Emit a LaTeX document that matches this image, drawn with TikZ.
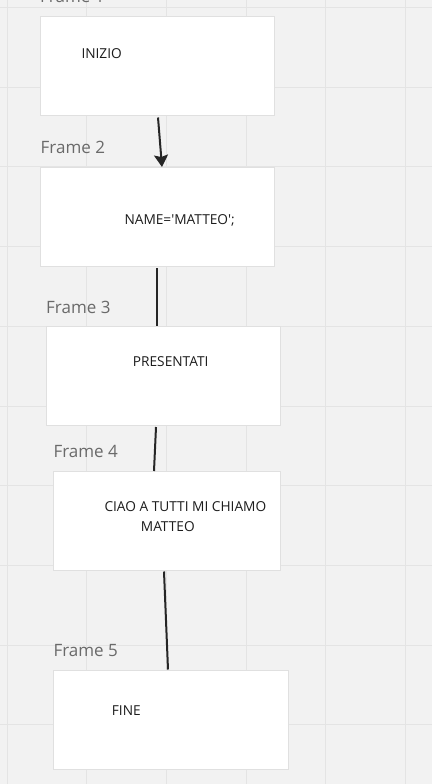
\documentclass[tikz,border=0pt]{standalone}
\usepackage{fontspec}
\newfontfamily\osans{Open Sans}
\usetikzlibrary{arrows.meta,calc}
\definecolor{bgc}{HTML}{F2F2F2}
\definecolor{gridc}{HTML}{E4E4E4}
\definecolor{boxb}{HTML}{E0E0E0}
\definecolor{labc}{HTML}{6A6A6A}
\definecolor{txtc}{HTML}{1C1C1C}
\definecolor{connc}{HTML}{262626}
\begin{document}
\begin{tikzpicture}[x=1pt,y=-1pt,
 frame/.style={draw=boxb,line width=1pt,fill=white,rectangle,anchor=north west,inner sep=0pt},
 flabel/.style={anchor=base west,inner sep=0pt,text=labc,font=\osans\fontsize{17}{19}\selectfont},
 btext/.style={anchor=base west,inner sep=0pt,text=txtc,font=\osans\fontsize{13.7}{20}\selectfont},
 connline/.style={draw=connc,line width=2pt}]
\useasboundingbox (0,0) rectangle (432,784);
\fill[bgc] (0,0) rectangle (432,784);
\foreach \i in {0,...,5} \draw[gridc,line width=1pt] ({7+79.7*\i},0) -- ({7+79.7*\i},784);
\foreach \i in {0,...,9} \draw[gridc,line width=1pt] (0,{7.5+79.7*\i}) -- (432,{7.5+79.7*\i});
% frames
\node[frame,minimum width=234pt,minimum height=99pt] (f1) at (40,16) {};
\node[frame,minimum width=234pt,minimum height=99pt] (f2) at (40,167) {};
\node[frame,minimum width=234pt,minimum height=99pt] (f3) at (46,326) {};
\node[frame,minimum width=227pt,minimum height=98.5pt] (f4) at (53,471) {};
\node[frame,minimum width=234.5pt,minimum height=99pt] (f5) at (53,669.5) {};
% frame labels
\node[flabel] (l1) at (40,2.5) {Frame 1};
\node[flabel] (l2) at (40.5,153.3) {Frame 2};
\node[flabel] (l3) at (46,313.3) {Frame 3};
\node[flabel] (l4) at (53.3,457.3) {Frame 4};
\node[flabel] (l5) at (53.3,656.7) {Frame 5};
% texts
\node[btext] (t1) at (81.3,58.3) {INIZIO};
\node[btext] (t2) at (124.3,224.3) {NAME='MATTEO';};
\node[btext] (t3) at (132.7,366.7) {PRESENTATI};
\node[btext] (t4a) at (104.3,511.7) {CIAO A TUTTI MI CHIAMO};
\node[btext] (t4b) at (140.7,531.7) {MATTEO};
\node[btext] (t5) at (111.7,715.7) {FINE};
% connectors
\draw[connline,-{Stealth[length=12pt,width=14pt,inset=2pt]}] ($(f1.south west)+(118,1.5)$) -- ($(f2.north west)+(122,0)$);
\draw[connline] ($(f2.south west)+(117,1)$) -- ($(f3.north west)+(111,0)$);
\draw[connline] ($(f3.south west)+(110,1)$) -- ($(f4.north west)+(101,0)$);
\draw[connline] ($(f4.south west)+(111,1)$) -- ($(f5.north west)+(115,0)$);
\end{tikzpicture}
\end{document}
